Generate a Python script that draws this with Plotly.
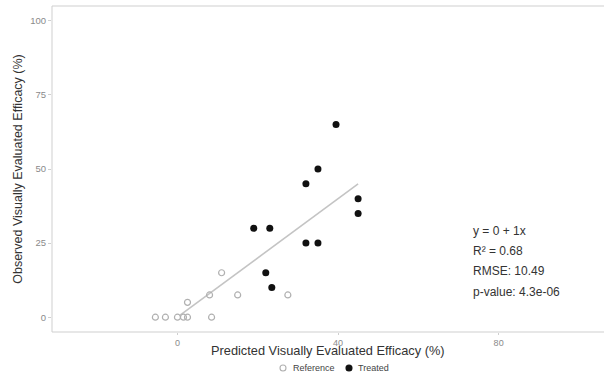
import plotly.graph_objects as go

# Reference group: predicted vs observed efficacy (%)
ref_pred = [-5.5, -3.0, 0.0, 1.5, 2.5, 8.5, 2.5, 8.0, 11.0, 15.0, 27.5]
ref_obs = [0, 0, 0, 0, 0, 0, 5, 7.5, 15, 7.5, 7.5]

# Treated group: predicted vs observed efficacy (%)
trt_pred = [39.5, 35.0, 32.0, 45.0, 45.0, 19.0, 23.0, 32.0, 35.0, 22.0, 23.5]
trt_obs = [65, 50, 45, 40, 35, 30, 30, 25, 25, 15, 10]

# Fitted line y = intercept + slope * x over the fitted span
fit_intercept = 0.0
fit_slope = 1.0
fit_span = [0.5, 45.0]

stats_lines = ["y = 0 + 1x", "R\u00b2 = 0.68", "RMSE: 10.49", "p-value: 4.3e-06"]
stats_y = [29.0, 22.3, 15.6, 8.6]

x_ticks = [0, 40, 80]
y_ticks = [0, 25, 50, 75, 100]

groups = ["Reference", "Treated"]
group_colors = {"Reference": "#b0b0b0", "Treated": "#111111"}

font_family = "Liberation Sans, Arial, sans-serif"
W, H = 604, 377
M_L, M_R, M_T, M_B = 52, 0, 6, 45
PW, PH = W - M_L - M_R, H - M_T - M_B
AXIS_GREY = "#cfcfcf"


def px_to_paper(px, py):
    """Pixel position in the page -> paper coordinates."""
    return (px - M_L) / PW, (H - M_B - py) / PH


fig = go.Figure()

fig.add_trace(go.Scatter(
    x=fit_span,
    y=[fit_intercept + fit_slope * v for v in fit_span],
    mode="lines",
    line=dict(color="#c4c4c4", width=1.6),
    showlegend=False,
    hoverinfo="skip",
))

fig.add_trace(go.Scatter(
    x=ref_pred, y=ref_obs, mode="markers", name="Reference", showlegend=False,
    marker=dict(symbol="circle-open", size=6, color=group_colors["Reference"],
                line=dict(width=1.2, color=group_colors["Reference"])),
))

fig.add_trace(go.Scatter(
    x=trt_pred, y=trt_obs, mode="markers", name="Treated", showlegend=False,
    marker=dict(symbol="circle", size=7, color=group_colors["Treated"]),
))

for txt, yv in zip(stats_lines, stats_y):
    fig.add_annotation(
        x=73, y=yv, xref="x", yref="y", text=txt, showarrow=False,
        xanchor="left", yanchor="middle",
        font=dict(family=font_family, size=12, color="#333333"),
    )

# x-axis title
_, ty = px_to_paper(0, 351)
fig.add_annotation(
    x=0.5, y=ty, xref="paper", yref="paper",
    text="Predicted Visually Evaluated Efficacy (%)", showarrow=False,
    xanchor="center", yanchor="middle",
    font=dict(family=font_family, size=12.8, color="#333333"),
)

# Compact horizontal key under the x-axis title
key_py = 368
key_items = [(283, 291), (349, 356)]  # (symbol centre px, text left px)
for g, (sx, lx) in zip(groups, key_items):
    filled = g == "Treated"
    r = 3.0
    ax_, ay_ = px_to_paper(sx, key_py)
    fig.add_shape(
        type="circle", xref="paper", yref="paper",
        xsizemode="pixel", ysizemode="pixel",
        xanchor=ax_, yanchor=ay_,
        x0=-r, x1=r, y0=-r, y1=r,
        line=dict(color=group_colors[g], width=1.1),
        fillcolor=group_colors[g] if filled else "rgba(0,0,0,0)",
    )
    lx_, ly_ = px_to_paper(lx, key_py)
    fig.add_annotation(
        x=lx_, y=ly_, xref="paper", yref="paper", text=g, showarrow=False,
        xanchor="left", yanchor="middle",
        font=dict(family=font_family, size=9, color="#444444"),
    )

# Panel lines: bottom, left and top
for x0, y0, x1, y1 in [(0, 0, 1, 0), (0, 0, 0, 1), (0, 1, 1, 1)]:
    fig.add_shape(type="line", xref="paper", yref="paper",
                  x0=x0, y0=y0, x1=x1, y1=y1,
                  line=dict(color=AXIS_GREY, width=1))

fig.update_layout(
    width=W, height=H,
    margin=dict(l=M_L, r=M_R, t=M_T, b=M_B, autoexpand=False),
    paper_bgcolor="white", plot_bgcolor="white",
    font=dict(family=font_family),
    showlegend=False,
    template="none",
)

fig.update_xaxes(
    range=[-31.25, 106.25], tickvals=x_ticks, showgrid=False, zeroline=False,
    showline=False, mirror=False,
    ticks="outside", ticklen=2, tickcolor=AXIS_GREY,
    tickfont=dict(size=9, color="#8a8a8a"), automargin=False,
)

fig.update_yaxes(
    range=[-5, 105], tickvals=y_ticks, showgrid=False, zeroline=False,
    showline=False, mirror=False,
    ticks="outside", ticklen=3, tickcolor=AXIS_GREY,
    tickfont=dict(size=9.5, color="#8a8a8a"), automargin=False,
    title=dict(text="Observed Visually Evaluated Efficacy (%)", standoff=4,
               font=dict(size=12.5, color="#333333")),
)

fig.write_html("out.html")
